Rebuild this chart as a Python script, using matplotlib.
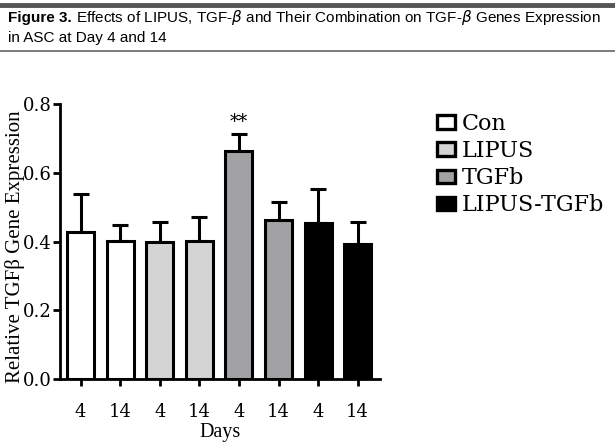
import matplotlib.pyplot as plt
from matplotlib.patches import Patch

days = ['4', '14', '4', '14', '4', '14', '4', '14']
groups = ['Con', 'LIPUS', 'TGFb', 'LIPUS-TGFb']
group_colors = ['white', '#d4d4d4', '#a2a2a4', 'black']
means = [0.428, 0.402, 0.400, 0.402, 0.663, 0.462, 0.455, 0.393]
errors = [0.110, 0.045, 0.057, 0.068, 0.050, 0.053, 0.098, 0.064]
bar_colors = [c for c in group_colors for _ in range(2)]

plt.rcParams['font.family'] = ['DejaVu Serif']
sans = ['Liberation Sans Narrow', 'Liberation Sans']
serif = ['Liberation Serif', 'DejaVu Serif']

fig = plt.figure(figsize=(6.15, 4.46), dpi=100)

# caption header
fig.add_artist(plt.Line2D([0, 1], [0.989, 0.989], color='#555555', lw=3.5))
fig.add_artist(plt.Line2D([0, 1], [0.886, 0.886], color='#666666', lw=1.2))
fig.text(0.013, 0.96, 'Figure 3.', fontsize=11, fontweight='bold', family=sans, va='center')
fig.text(0.123, 0.96, 'Effects of LIPUS, TGF-$\\beta$ and Their Combination on TGF-$\\beta$ Genes Expression',
         fontsize=11, family=sans, va='center')
fig.text(0.013, 0.915, 'in ASC at Day 4 and 14', fontsize=11, family=sans, va='center')

ax = fig.add_axes([0.0976, 0.150, 0.520, 0.617])
x = list(range(len(means)))
ax.bar(x, means, width=0.68, color=bar_colors, edgecolor='black', linewidth=2.2, zorder=2)
ax.errorbar(x, means, yerr=[[0] * len(errors), errors], fmt='none', ecolor='black',
            elinewidth=2.2, capsize=5.5, capthick=2.2, zorder=1)
ax.text(4, means[4] + errors[4] + 0.008, '**', ha='center', va='bottom', fontsize=13)

ax.set_xlim(-0.52, 7.56)
ax.set_ylim(0, 0.8)
ax.set_yticks([0.0, 0.2, 0.4, 0.6, 0.8])
ax.set_yticklabels(['0.0', '0.2', '0.4', '0.6', '0.8'])
ax.set_xticks(x)
ax.set_xticklabels(days)
ax.tick_params(axis='both', labelsize=13, width=2, length=5)
ax.tick_params(axis='y', pad=1)
ax.tick_params(axis='x', pad=12)
for side in ['top', 'right']:
    ax.spines[side].set_visible(False)
for side in ['left', 'bottom']:
    ax.spines[side].set_linewidth(2)
ax.set_ylabel('Relative TGFβ Gene Expression', fontsize=15, family=serif)
ax.yaxis.set_label_coords(-0.11, 0.48)
ax.set_xlabel('Days', fontsize=14.5, family=serif, labelpad=2)

handles = [Patch(facecolor=c, edgecolor='black', linewidth=2.4) for c in group_colors]
fig.legend(handles, groups, loc='upper left', bbox_to_anchor=(0.711, 0.747), frameon=False,
           fontsize=16, handlelength=0.8, handleheight=0.55, labelspacing=0.23,
           handletextpad=0.32, borderpad=0, borderaxespad=0)

fig.savefig('out.png', dpi=100)
